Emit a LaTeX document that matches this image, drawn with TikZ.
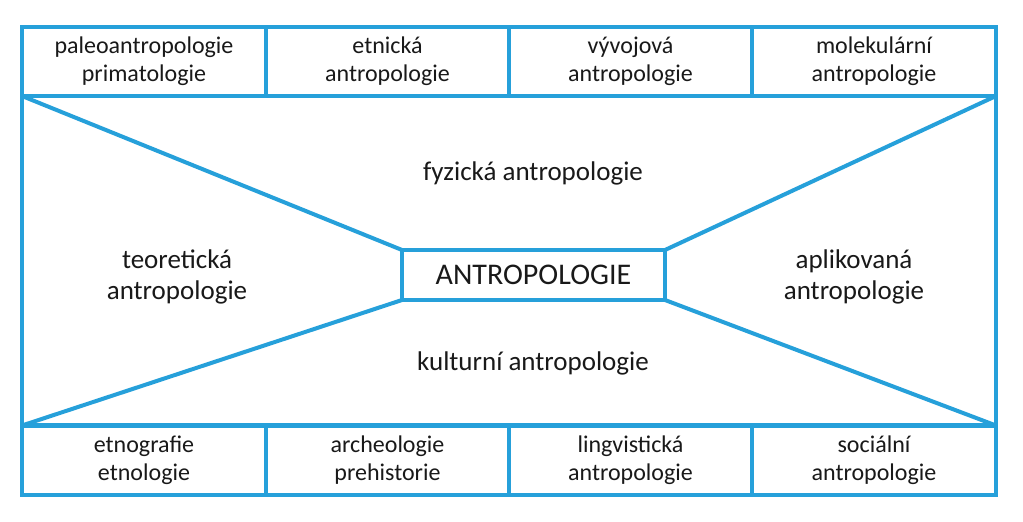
\documentclass[tikz,border=0pt]{standalone}
\usepackage{fontspec}
\setmainfont{Carlito}
\definecolor{frameblue}{RGB}{38,160,218}
\definecolor{txt}{RGB}{25,25,25}
\begin{document}
\begin{tikzpicture}[x=1pt,y=-1pt,
  ln/.style={draw=frameblue,line width=4pt},
  cell/.style={ln,minimum width=243pt,minimum height=69pt,inner sep=0pt,outer sep=0pt,
    align=center,text=txt,font=\fontsize{24}{28}\selectfont},
  core/.style={ln,minimum width=263pt,minimum height=50pt,inner sep=0pt,outer sep=0pt,
    text=txt,font=\fontsize{30}{34}\selectfont},
  lbl/.style={align=center,text=txt,font=\fontsize{27}{31}\selectfont,inner sep=0pt}]
\useasboundingbox (0,0) rectangle (1023,522);
\fill[white] (0,0) rectangle (1023,522);
% middle frame
\coordinate (ftl) at (22,96);
\coordinate (fbr) at (996,425);
\draw[ln] (ftl) rectangle (fbr);
% top row
\node[cell,minimum width=244pt] (t1) at (144,61.5) {paleoantropologie\\primatologie};
\node[cell] (t2) at (387.5,61.5) {etnická\\antropologie};
\node[cell] (t3) at (630.5,61.5) {vývojová\\antropologie};
\node[cell,minimum width=244pt] (t4) at (874,61.5) {molekulární\\antropologie};
% bottom row
\node[cell,minimum width=244pt] (b1) at (144,460) {etnografie\\etnologie};
\node[cell] (b2) at (387.5,460) {archeologie\\prehistorie};
\node[cell] (b3) at (630.5,460) {lingvistická\\antropologie};
\node[cell,minimum width=244pt] (b4) at (874,460) {sociální\\antropologie};
% center
\node[core] (c) at (533.5,275) {ANTROPOLOGIE};
\draw[ln] (t1.south west) -- (c.north west);
\draw[ln] (b1.north west) -- (c.south west);
\draw[ln] (t4.south east) -- (c.north east);
\draw[ln] (b4.north east) -- (c.south east);
% labels
\node[lbl] (fy) at (533,173) {fyzická antropologie};
\node[lbl] (ku) at (533,363) {kulturní antropologie};
\node[lbl] (te) at (177,277) {teoretická\\antropologie};
\node[lbl] (ap) at (854,277) {aplikovaná\\antropologie};
\end{tikzpicture}
\end{document}
